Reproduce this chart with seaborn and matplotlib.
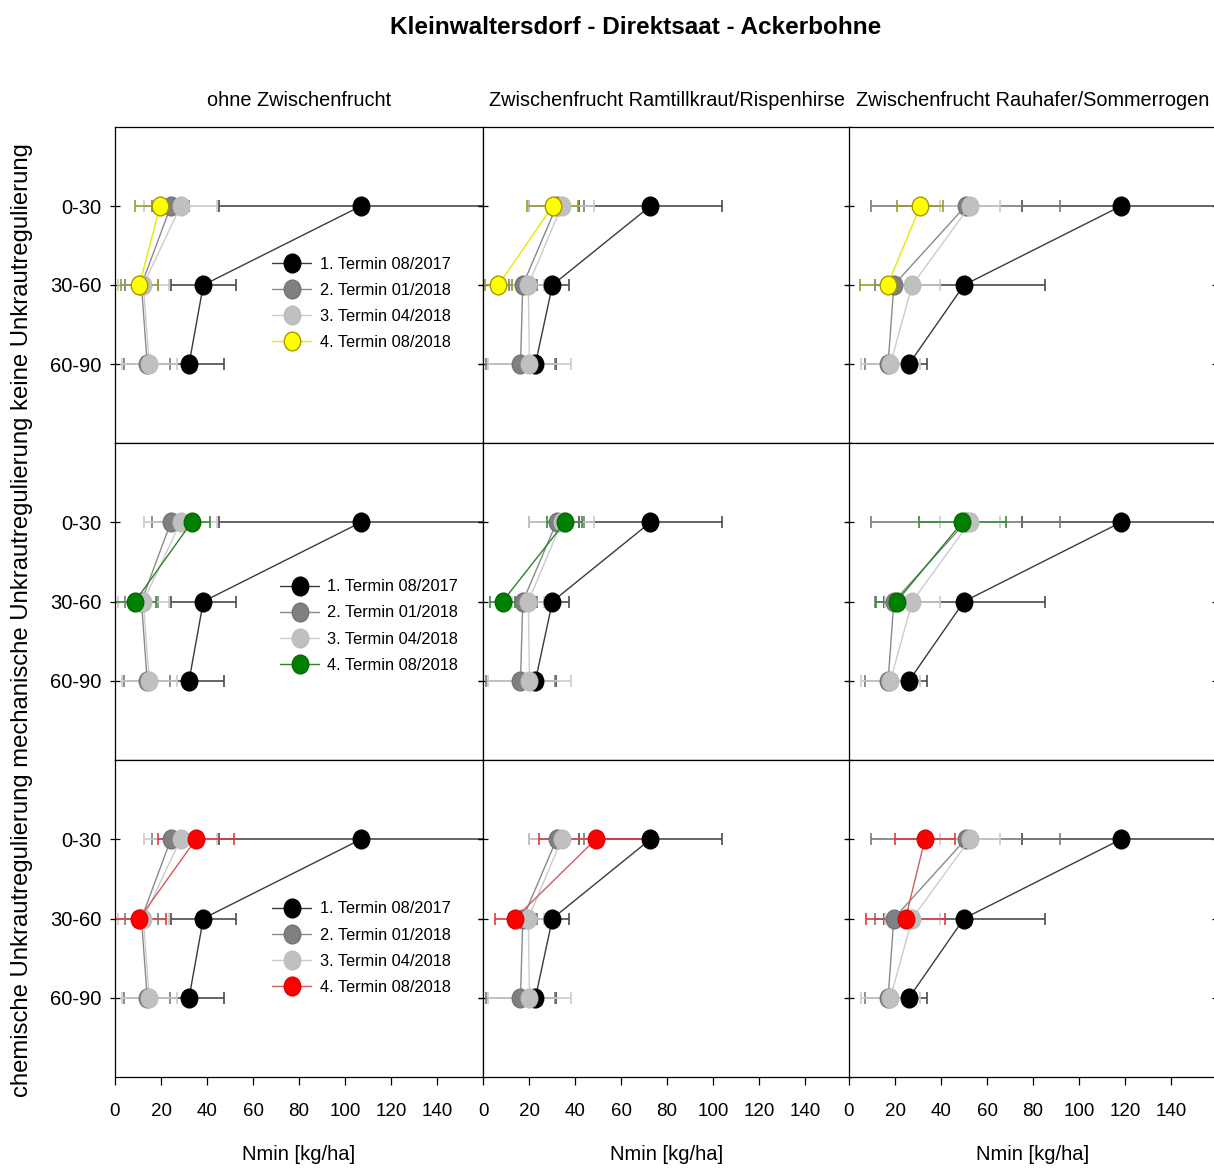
import numpy as np
import matplotlib
matplotlib.use("Agg")
import matplotlib.pyplot as plt
from matplotlib import font_manager
from matplotlib.path import Path
import seaborn as sns

# ---------------------------------------------------------------- data
title = "Kleinwaltersdorf - Direktsaat - Ackerbohne"
column_titles = ["ohne Zwischenfrucht",
                 "Zwischenfrucht Ramtillkraut/Rispenhirse",
                 "Zwischenfrucht Rauhafer/Sommerrogen"]
row_label = ("chemische Unkrautregulierung mechanische Unkrautregulierung "
             "keine Unkrautregulierung")
depths = ["0-30", "30-60", "60-90"]
termine = ["1. Termin 08/2017", "2. Termin 01/2018",
           "3. Termin 04/2018", "4. Termin 08/2018"]
x_ticks = [0, 20, 40, 60, 80, 100, 120, 140]
x_label = "Nmin [kg/ha]"

# Termin 1-3: one set per cover-crop column (same for every weed-control row)
t1_mean = [[107.0, 38.4, 32.2], [72.8, 30.2, 22.8], [118.3, 50.0, 26.1]]
t1_err = [[62.0, 14.0, 15.0], [31.0, 7.0, 9.0], [43.0, 35.0, 8.0]]
t2_mean = [[24.3, 11.5, 14.0], [32.0, 17.3, 16.3], [50.7, 19.5, 17.0]]
t2_err = [[8.0, 7.0, 10.0], [12.0, 6.0, 15.0], [41.0, 8.0, 10.0]]
t3_mean = [[28.5, 12.3, 14.9], [34.2, 19.7, 20.2], [52.5, 27.5, 18.0]]
t3_err = [[16.0, 11.0, 12.0], [14.0, 7.0, 18.0], [13.0, 12.0, 13.0]]

# Termin 4: rows = keine / mechanische / chemische, columns as above (0-30, 30-60)
t4_mean = [[[19.6, 10.6], [30.3, 6.7], [31.0, 16.8]],
           [[33.3, 8.7], [35.6, 8.5], [49.3, 20.7]],
           [[35.2, 10.6], [49.0, 13.9], [33.0, 24.6]]]
t4_err = [[[11.0, 8.0], [11.0, 6.0], [10.0, 12.0]],
          [[8.0, 9.0], [7.6, 5.5], [19.0, 9.0]],
          [[16.5, 11.5], [24.5, 8.5], [13.0, 17.0]]]

# ---------------------------------------------------------------- styles
base_styles = [
    dict(line="#3a3a3a", face="#000000", edge="#000000", err="#4a4a4a"),
    dict(line="#8a8a8a", face="#808080", edge="#747474", err="#7a7a7a"),
    dict(line="#cccccc", face="#c0c0c0", edge="#bdbdbd", err="#cbcbcb"),
]
t4_styles = [
    dict(line="#e8e800", face="#ffff00", edge="#a89800", err="#9c9a30"),
    dict(line="#2f7f2f", face="#008000", edge="#006a00", err="#3a8a3a"),
    dict(line="#d65a5a", face="#ff0000", edge="#e00000", err="#e03a3a"),
]

sns.set_style("white")
installed = {f.name for f in font_manager.fontManager.ttflist}
sans = "Liberation Sans" if "Liberation Sans" in installed else "DejaVu Sans"
plt.rcParams["font.family"] = [sans, "DejaVu Sans"]
plt.rcParams["text.color"] = "black"
plt.rcParams["xtick.color"] = "black"
plt.rcParams["ytick.color"] = "black"
plt.rcParams["axes.linewidth"] = 0.9
plt.rcParams["xtick.major.pad"] = 14

# slightly tall elliptic marker
circ = Path.unit_circle()
ellipse = Path(circ.vertices * np.array([0.88, 1.0]), circ.codes)

W, H = 1214, 1168
fig = plt.figure(figsize=(W / 100, H / 100), dpi=100)
fig.patch.set_facecolor("white")

col_left = [115, 483, 849]
col_width = 368
row_top = [127, 443, 760]
row_height = [316, 317, 317]
legend_anchor = [(0.427, 0.590), (0.448, 0.570), (0.427, 0.554)]

for r in range(3):
    for c in range(3):
        ax = fig.add_axes([col_left[c] / W,
                           1 - (row_top[r] + row_height[r]) / H,
                           col_width / W, row_height[r] / H])
        ax.set_facecolor("white")
        series = [
            (t1_mean[c], t1_err[c], base_styles[0]),
            (t2_mean[c], t2_err[c], base_styles[1]),
            (t3_mean[c], t3_err[c], base_styles[2]),
            (t4_mean[r][c], t4_err[r][c], t4_styles[r]),
        ]
        handles = []
        for k, (mean, err, st) in enumerate(series):
            pos = np.arange(1, len(mean) + 1)
            ax.errorbar(mean, pos, xerr=err, fmt="none", ecolor=st["err"],
                        elinewidth=1.2, capsize=4, capthick=1.2, zorder=2,
                        label="_nolegend_")
            sns.lineplot(x=mean, y=pos, orient="y", sort=False,
                         errorbar=None, legend=False, ax=ax,
                         color=st["line"], linewidth=1.0,
                         marker=ellipse, markersize=13.5,
                         markerfacecolor=st["face"],
                         markeredgecolor=st["edge"], markeredgewidth=1.0,
                         zorder=3 + k)
            handles.append(ax.lines[-1])

        ax.set_xlim(0, 160)
        ax.set_ylim(4, 0)
        ax.set_xlabel("")
        ax.set_ylabel("")
        ax.set_yticks([1, 2, 3])
        ax.set_yticklabels(depths)
        ax.tick_params(axis="y", direction="inout", length=7, width=0.9,
                       left=True, right=True, labelleft=(c == 0),
                       labelsize=14.5, pad=6)
        if r == 2:
            ax.set_xticks(x_ticks)
            ax.tick_params(axis="x", direction="out", length=6, width=0.9,
                           bottom=True, labelsize=13.5, pad=13)
        else:
            ax.tick_params(axis="x", bottom=False, labelbottom=False)
        for sp in ax.spines.values():
            sp.set_visible(True)
            sp.set_color("black")
            sp.set_linewidth(0.9)
        ax.grid(False)

        if c == 0:
            ax.legend(handles, termine, loc="upper left",
                      bbox_to_anchor=legend_anchor[r], frameon=False,
                      fontsize=11.8, handlelength=2.4, handletextpad=0.5,
                      labelspacing=0.68, borderaxespad=0, borderpad=0)

# ---------------------------------------------------------------- texts
fig.text(636 / W, 1 - 28 / H, title, ha="center", va="center",
         fontsize=17.5, fontweight="bold")
for c in range(3):
    cx = (col_left[c] + col_width / 2) / W
    fig.text(cx, 1 - 100 / H, column_titles[c], ha="center", va="center",
             fontsize=14.3)
    fig.text(cx, 1 - 1155 / H, x_label, ha="center", va="center",
             fontsize=14.5)
fig.text(22 / W, 1 - 620 / H, row_label, rotation=90, ha="center",
         va="center", fontsize=17.2)

fig.savefig("out.png", dpi=100, facecolor="white")
